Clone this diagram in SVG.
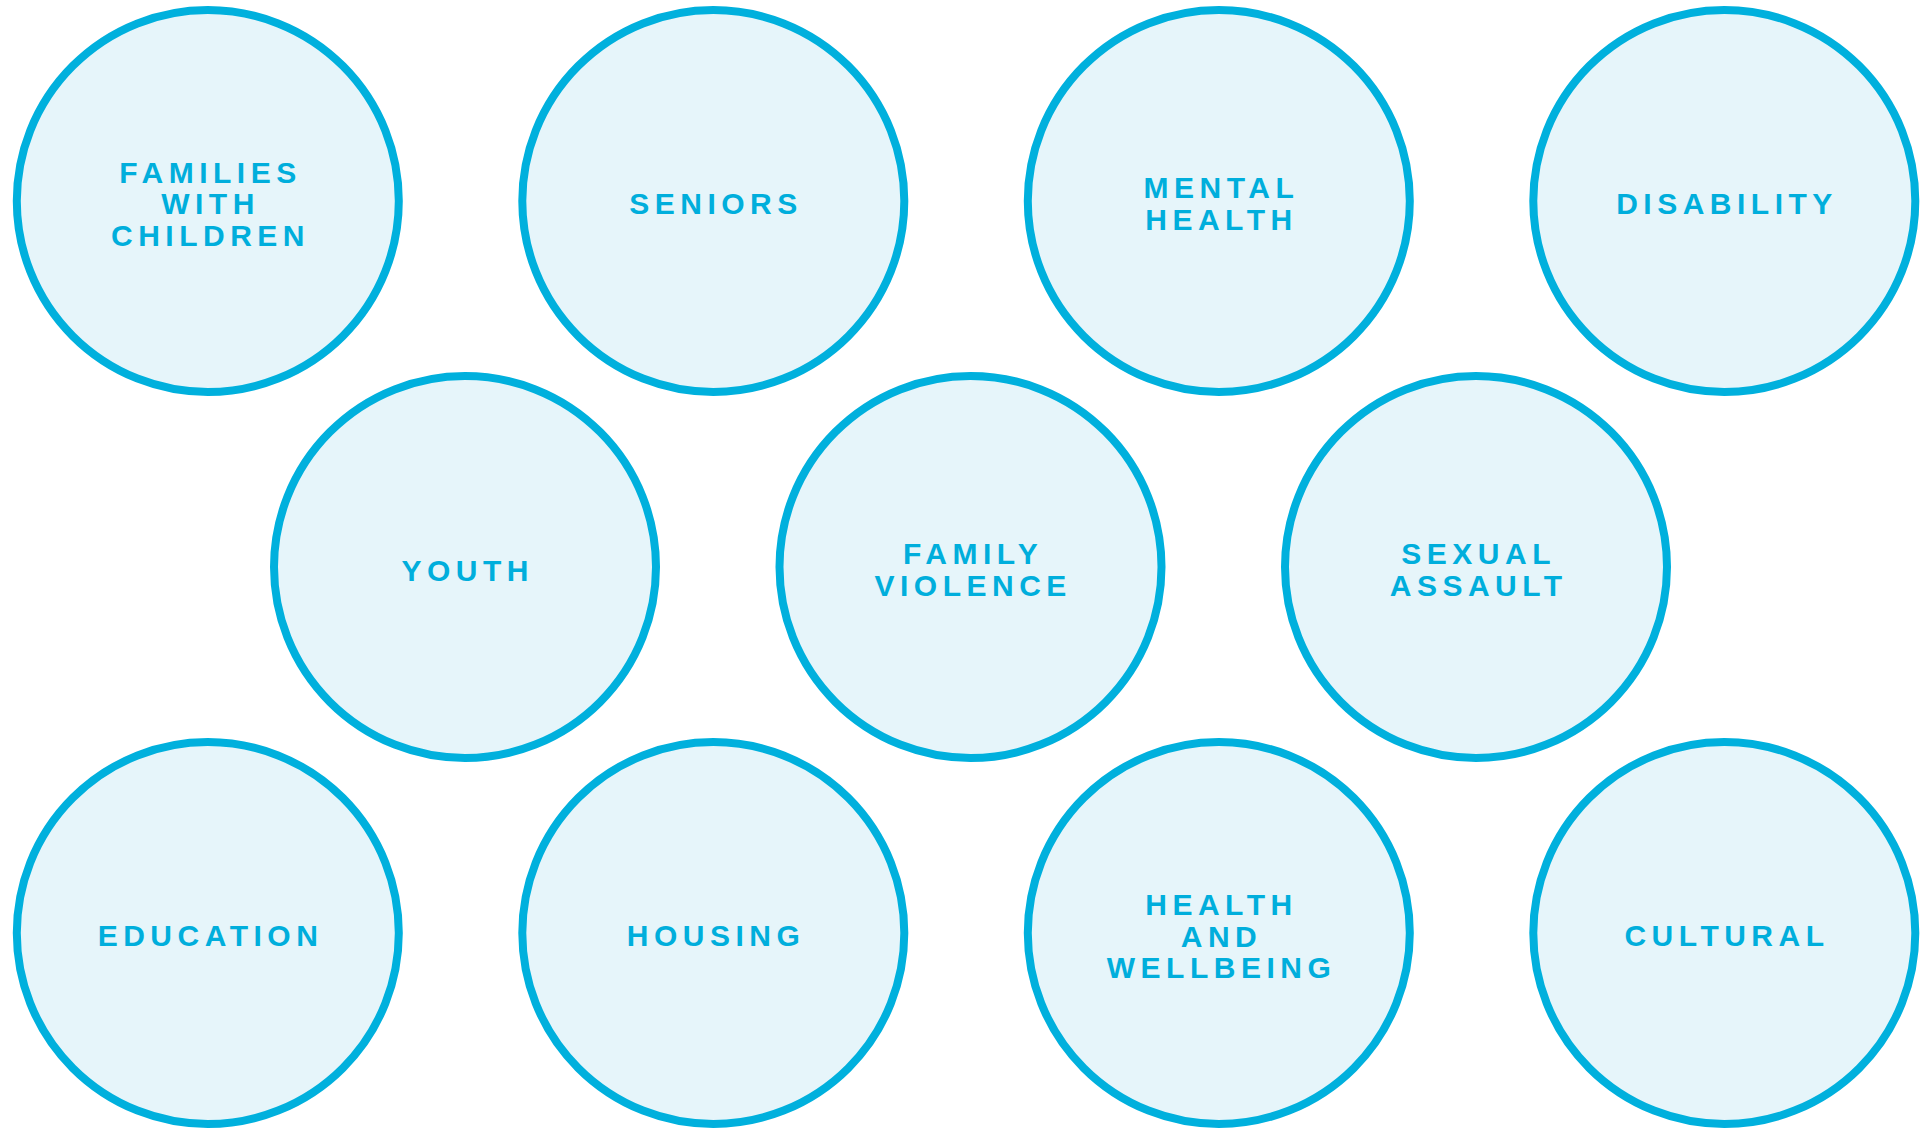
<svg xmlns="http://www.w3.org/2000/svg" width="1926" height="1128" viewBox="0 0 1926 1128">
<style>
.c{fill:#E6F5FA;stroke:#00B0DD;stroke-width:8}
.t{font-family:"Liberation Sans",Arial,sans-serif;font-weight:bold;font-size:30px;letter-spacing:5.5px;fill:#00AEDC;text-anchor:middle}
</style>
<rect width="1926" height="1128" fill="#FFFFFF"/>
<g id="families"><circle class="c" cx="207.8" cy="201" r="191"/><text class="t" x="210.5" y="182.5">FAMILIES</text><text class="t" x="210.5" y="214">WITH</text><text class="t" x="210.5" y="246">CHILDREN</text></g>
<g id="seniors"><circle class="c" cx="713.3" cy="201" r="191"/><text class="t" x="716" y="214">SENIORS</text></g>
<g id="mental"><circle class="c" cx="1218.8" cy="201" r="191"/><text class="t" x="1221.5" y="198">MENTAL</text><text class="t" x="1221.5" y="230">HEALTH</text></g>
<g id="disability"><circle class="c" cx="1724.3" cy="201" r="191"/><text class="t" x="1727" y="214">DISABILITY</text></g>
<g id="youth"><circle class="c" cx="465" cy="567" r="191"/><text class="t" x="467.7" y="580.5">YOUTH</text></g>
<g id="familyviolence"><circle class="c" cx="970.5" cy="567" r="191"/><text class="t" x="973.2" y="564">FAMILY</text><text class="t" x="973.2" y="596">VIOLENCE</text></g>
<g id="sexualassault"><circle class="c" cx="1476" cy="567" r="191"/><text class="t" x="1478.7" y="564">SEXUAL</text><text class="t" x="1478.7" y="596">ASSAULT</text></g>
<g id="education"><circle class="c" cx="207.8" cy="933" r="191"/><text class="t" x="210.5" y="946">EDUCATION</text></g>
<g id="housing"><circle class="c" cx="713.3" cy="933" r="191"/><text class="t" x="716" y="946">HOUSING</text></g>
<g id="health"><circle class="c" cx="1218.8" cy="933" r="191"/><text class="t" x="1221.5" y="915">HEALTH</text><text class="t" x="1221.5" y="946.7">AND</text><text class="t" x="1221.5" y="978.3">WELLBEING</text></g>
<g id="cultural"><circle class="c" cx="1724.3" cy="933" r="191"/><text class="t" x="1727" y="946">CULTURAL</text></g>
<g id="connectors"></g>
</svg>
